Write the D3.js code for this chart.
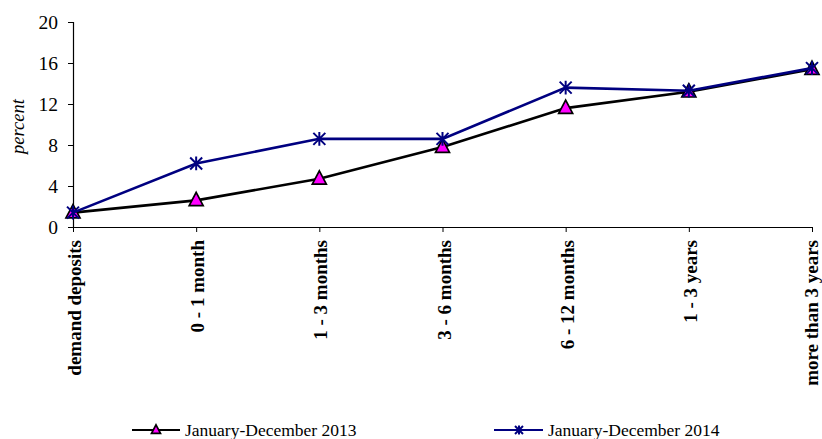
<!DOCTYPE html>
<html>
<head>
<meta charset="utf-8">
<script src="https://cdn.jsdelivr.net/npm/d3@7/dist/d3.min.js"></script>
<style>
  html, body { margin: 0; padding: 0; background: #fff; }
  svg { display: block; font-family: "Liberation Serif", "Times New Roman", serif; }
</style>
</head>
<body>
<svg id="chart" width="822" height="439"></svg>
<script>
// Maturity buckets and average rates (percent)
const categories = ["demand deposits", "0 - 1 month", "1 - 3 months", "3 - 6 months",
                    "6 - 12 months", "1 - 3 years", "more than 3 years"];
const values2013 = [1.4, 2.6, 4.7, 7.8, 11.6, 13.2, 15.4];
const values2014 = [1.4, 6.2, 8.6, 8.6, 13.6, 13.3, 15.5];
const yTicks = [0, 4, 8, 12, 16, 20];
const seriesNames = ["January-December 2013", "January-December 2014"];

const svg = d3.select("#chart");
const plotLeft = 73, plotRight = 812, plotTop = 22, plotBottom = 227;

const x = d3.scalePoint().domain(categories).range([plotLeft, plotRight]).padding(0);
const y = d3.scaleLinear().domain([0, 20]).range([plotBottom, plotTop]);

// Y axis
const yAxis = svg.append("g")
  .attr("transform", `translate(${plotLeft},0)`)
  .call(d3.axisLeft(y).tickValues(yTicks).tickSize(5).tickPadding(10).tickFormat(d3.format("d")));
yAxis.select(".domain").attr("stroke", "#000").attr("stroke-width", 1.2);
yAxis.selectAll(".tick line").attr("stroke", "#000");
yAxis.selectAll(".tick text")
  .attr("fill", "#000").style("font-size", "19.5px")
  .style("font-family", "'Liberation Serif', 'Times New Roman', serif");

// X axis
const xAxis = svg.append("g")
  .attr("transform", `translate(0,${plotBottom})`)
  .call(d3.axisBottom(x).tickSize(5).tickSizeOuter(0));
xAxis.select(".domain").attr("stroke", "#000").attr("stroke-width", 1.2);
xAxis.selectAll(".tick line").attr("stroke", "#000");
xAxis.selectAll(".tick text")
  .attr("fill", "#000")
  .style("font-size", "19px").style("font-weight", "bold")
  .style("font-family", "'Liberation Serif', 'Times New Roman', serif")
  .attr("text-anchor", "end")
  .attr("dy", null)
  .attr("transform", "rotate(-90)")
  .attr("x", -13)
  .attr("y", (d, i) => i === categories.length - 1 ? -1.5 : 1)
  .attr("dominant-baseline", "central");

// Y axis title
svg.append("text")
  .attr("transform", `translate(24,${(plotTop + plotBottom) / 2 + 2}) rotate(-90)`)
  .attr("text-anchor", "middle")
  .style("font-size", "18.5px").style("font-style", "italic")
  .text("percent");

const line = d3.line()
  .x((d, i) => x(categories[i]))
  .y(d => y(d));

// Marker shapes
function triangle(g, cx, cy, s) {
  const h = s * 0.95;
  g.append("path")
    .attr("d", `M${cx},${cy - h * 0.6} L${cx + s / 2},${cy + h * 0.4} L${cx - s / 2},${cy + h * 0.4} Z`)
    .attr("fill", "#ff00ff").attr("stroke", "#000").attr("stroke-width", 1.7)
    .attr("stroke-linejoin", "miter");
}
function star(g, cx, cy, s) {
  const r = s / 2;
  g.append("path")
    .attr("d", `M${cx - r},${cy - r}L${cx + r},${cy + r}M${cx - r},${cy + r}L${cx + r},${cy - r}M${cx},${cy - r * 1.15}L${cx},${cy + r * 1.15}`)
    .attr("stroke", "#000080").attr("stroke-width", 2).attr("fill", "none");
}

// 2013 series
svg.append("path").datum(values2013)
  .attr("d", line).attr("fill", "none").attr("stroke", "#000").attr("stroke-width", 2.6);
const g13 = svg.append("g");
values2013.forEach((v, i) => triangle(g13, x(categories[i]), y(v), 14));

// 2014 series
svg.append("path").datum(values2014)
  .attr("d", line).attr("fill", "none").attr("stroke", "#000080").attr("stroke-width", 2.6);
const g14 = svg.append("g");
values2014.forEach((v, i) => star(g14, x(categories[i]), y(v), 12));

// Legend
const legY = 430;
const leg = svg.append("g");
leg.append("line").attr("x1", 132).attr("x2", 180).attr("y1", legY).attr("y2", legY)
  .attr("stroke", "#000").attr("stroke-width", 2.2);
triangle(leg, 156, legY, 9);
leg.append("text").attr("x", 185).attr("y", legY).attr("dominant-baseline", "central")
  .style("font-size", "17.5px").text(seriesNames[0]);

leg.append("line").attr("x1", 494).attr("x2", 543).attr("y1", legY).attr("y2", legY)
  .attr("stroke", "#000080").attr("stroke-width", 2.2);
star(leg, 519, legY, 8);
leg.append("text").attr("x", 548).attr("y", legY).attr("dominant-baseline", "central")
  .style("font-size", "17.5px").text(seriesNames[1]);
</script>
</body>
</html>
